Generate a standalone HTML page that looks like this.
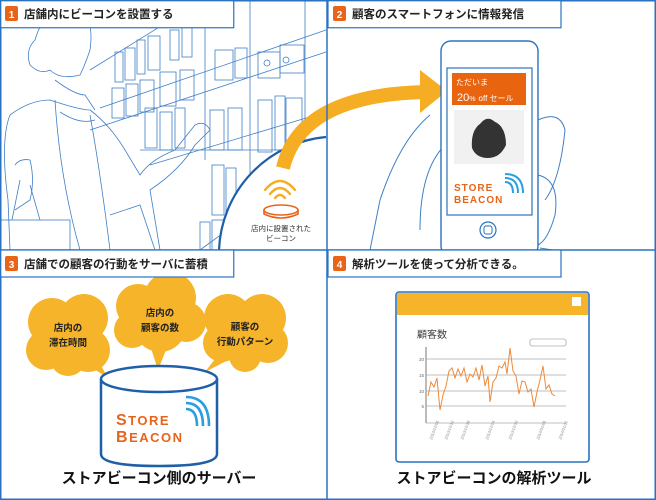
<!DOCTYPE html>
<html><head><meta charset="utf-8"><style>
html,body{margin:0;padding:0;background:#fff;}
svg{display:block;font-family:"Liberation Sans","Noto Sans CJK JP",sans-serif;}
</style></head><body>
<svg width="656" height="500" viewBox="0 0 656 500" xmlns="http://www.w3.org/2000/svg">
<rect x="0" y="0" width="656" height="500" fill="#fff"/>
<!-- panel 1 line illustration -->
<g stroke="#3f7fc6" stroke-width="0.8" fill="none">
  <line x1="90" y1="130" x2="326" y2="52"/>
  <line x1="100" y1="108" x2="326" y2="30"/>
  <line x1="150" y1="165" x2="326" y2="112"/>
  <line x1="200" y1="250" x2="326" y2="158"/>
  <line x1="90" y1="70" x2="190" y2="8"/>
  <line x1="140" y1="150" x2="326" y2="150"/>
  <line x1="205" y1="28" x2="205" y2="160"/>
  <line x1="250" y1="0" x2="250" y2="250"/>
  <line x1="305" y1="0" x2="305" y2="140"/>
  <rect x="115" y="52" width="8" height="30"/><rect x="125" y="48" width="10" height="32"/><rect x="137" y="40" width="8" height="34"/><rect x="148" y="36" width="12" height="34"/><rect x="170" y="30" width="9" height="30"/><rect x="182" y="25" width="10" height="32"/>
  <rect x="215" y="50" width="18" height="30"/><rect x="235" y="48" width="12" height="30"/><rect x="258" y="52" width="22" height="26"/><rect x="280" y="45" width="24" height="28"/>
  <rect x="112" y="88" width="12" height="30"/><rect x="126" y="84" width="12" height="32"/><rect x="140" y="80" width="14" height="32"/><rect x="160" y="72" width="16" height="34"/><rect x="180" y="70" width="14" height="30"/>
  <rect x="258" y="100" width="14" height="52"/><rect x="275" y="96" width="10" height="54"/><rect x="286" y="98" width="16" height="52"/>
  <rect x="145" y="108" width="12" height="40"/><rect x="160" y="112" width="12" height="38"/><rect x="175" y="108" width="10" height="40"/><rect x="210" y="110" width="14" height="40"/><rect x="228" y="108" width="14" height="42"/>
  <rect x="212" y="165" width="12" height="50"/><rect x="226" y="168" width="10" height="50"/><rect x="200" y="222" width="10" height="28"/><rect x="212" y="220" width="12" height="30"/>
  <circle cx="267" cy="63" r="3"/><circle cx="286" cy="60" r="3"/>
  <path d="M35 40 Q45 5 75 8 Q95 15 90 50 Q85 65 80 75 Q60 80 50 70 Q40 75 30 65 Q25 50 35 40"/>
  <path d="M55 80 Q75 95 85 95 L95 110"/>
  <path d="M10 115 Q30 100 50 100 Q80 110 90 110 Q110 125 125 150 L140 175 Q150 160 175 150 L195 125 Q205 120 210 130 L195 145 Q180 170 150 190 L160 250"/>
  <path d="M10 115 Q0 140 8 200 L10 250"/>
  <path d="M55 100 Q60 180 80 250"/>
  <path d="M90 115 Q100 170 110 250"/>
  <path d="M60 112 Q80 125 95 120"/>
  <path d="M110 215 L140 205 L155 250"/>
  <path d="M15 165 Q20 158 30 160 Q35 180 30 200 L15 210"/>
  <rect x="0" y="220" width="70" height="30"/>
  <path d="M12 220 L20 180 M40 220 L30 185"/>
</g>
<!-- beacon circle -->
<path d="M219 250 A118 118 0 0 1 326 137 L326 250 Z" fill="#fff"/>
<path d="M219 250 A118 118 0 0 1 326 137" stroke="#1e5fa8" stroke-width="2.2" fill="none"/>
<!-- arrow -->
<path d="M283 168 Q300 95 425 92" stroke="#f5ad24" stroke-width="14" fill="none"/>
<polygon points="420,70 447,91 420,113" fill="#f5ad24"/>
<!-- beacon icon -->
<g stroke="#f5ad24" stroke-width="2.4" fill="none" stroke-linecap="round">
  <path d="M265 190 Q280 172 295 190"/>
  <path d="M270 194 Q280 182 290 194"/>
  <path d="M275 198 Q280 192 285 198"/>
</g>
<ellipse cx="281" cy="210" rx="17" ry="5" fill="#fff" stroke="#e8641a" stroke-width="1.6"/>
<path d="M264 210 L264 214 Q281 222 298 214 L298 210" fill="none" stroke="#e8641a" stroke-width="1.6"/>
<text x="281" y="231" font-size="7.5" text-anchor="middle" fill="#333">店内に設置された</text>
<text x="281" y="241" font-size="7.5" text-anchor="middle" fill="#333">ビーコン</text>
<!-- panel 2 hand -->
<g stroke="#3f7fc6" stroke-width="1" fill="none">
  <path d="M430 115 Q400 140 380 200 L370 250"/>
  <path d="M445 145 Q420 170 420 230"/>
  <path d="M538 120 Q560 110 565 130 Q560 180 545 200"/>
  <path d="M538 175 Q560 180 555 215 Q548 240 538 245"/>
  <path d="M540 248 Q552 250 555 250"/>
</g>
<!-- phone -->
<rect x="441" y="41" width="97" height="215" rx="10" fill="#fff" stroke="#2a73c0" stroke-width="1.4"/>
<rect x="447" y="68" width="85" height="147" fill="#fff" stroke="#2a73c0" stroke-width="1.2"/>
<circle cx="488" cy="230" r="8" fill="none" stroke="#2a73c0" stroke-width="1.2"/>
<rect x="484" y="226" width="8" height="8" rx="2" fill="none" stroke="#2a73c0" stroke-width="1"/>
<rect x="452" y="73" width="74" height="32" fill="#e8640e"/>
<text x="456" y="85" font-size="8" fill="#fff">ただいま</text>
<text x="457" y="101" font-size="11" fill="#fff">20<tspan font-size="7">%</tspan> <tspan font-size="8">off セール</tspan></text>
<rect x="454" y="110" width="70" height="54" fill="#f1f1f1"/>
<path d="M472 148 Q470 125 488 120 Q506 122 506 145 Q500 158 488 158 Q476 158 472 148Z" fill="#333"/>
<path d="M479 128 Q488 112 498 128" stroke="#333" stroke-width="2.5" fill="none"/>
<text x="454" y="191" font-size="10" font-weight="bold" fill="#e8641a" letter-spacing="1">STORE</text>
<text x="454" y="203" font-size="10" font-weight="bold" fill="#e8641a" letter-spacing="1">BEACON</text>
<g stroke="#2a9ee0" stroke-width="2" fill="none">
  <path d="M505 182 Q513 182 513 193"/><path d="M505 178 Q518 178 518 193"/><path d="M505 174 Q523 174 523 193"/>
</g>
<!-- panel 3 clouds -->
<g fill="#f5b42a">
  <circle cx="52" cy="322" r="24"/><circle cx="84" cy="318" r="24"/><circle cx="46" cy="350" r="20"/><circle cx="88" cy="350" r="22"/><circle cx="68" cy="335" r="28"/><circle cx="68" cy="358" r="18"/>
  <polygon points="80,360 108,378 95,355"/>
  <circle cx="138" cy="306" r="22"/><circle cx="170" cy="298" r="26"/><circle cx="186" cy="322" r="20"/><circle cx="132" cy="330" r="18"/><circle cx="160" cy="326" r="26"/>
  <polygon points="150,345 158,370 168,345"/>
  <circle cx="228" cy="318" r="24"/><circle cx="262" cy="318" r="24"/><circle cx="222" cy="343" r="19"/><circle cx="268" cy="343" r="20"/><circle cx="245" cy="335" r="26"/><circle cx="245" cy="356" r="16"/>
  <polygon points="222,350 205,372 238,355"/>
</g>
<g font-size="9.5" fill="#222" text-anchor="middle" font-weight="bold">
  <text x="68" y="331">店内の</text><text x="68" y="346">滞在時間</text>
  <text x="160" y="316">店内の</text><text x="160" y="331">顧客の数</text>
  <text x="245" y="330">顧客の</text><text x="245" y="345">行動パターン</text>
</g>
<!-- cylinder -->
<path d="M101 379 L101 454 Q101 466 159 466 Q217 466 217 454 L217 379" fill="#fff" stroke="#1e5fa8" stroke-width="2.5"/>
<ellipse cx="159" cy="379" rx="58" ry="13" fill="#fff" stroke="#1e5fa8" stroke-width="2.5"/>
<text x="116" y="425" font-size="13" font-weight="bold" fill="#e8641a" letter-spacing="1.5"><tspan font-size="16">S</tspan>TORE</text>
<text x="116" y="442" font-size="13" font-weight="bold" fill="#e8641a" letter-spacing="1.5"><tspan font-size="16">B</tspan>EACON</text>
<g stroke="#2a9ee0" stroke-width="2.6" fill="none">
  <path d="M186 409 Q197 409 197 426"/><path d="M186 403 Q203 403 203 426"/><path d="M186 397 Q209 397 209 426"/>
</g>
<text x="159" y="483" font-size="15" font-weight="bold" fill="#111" text-anchor="middle">ストアビーコン側のサーバー</text>
<!-- panel 4 window -->
<rect x="396" y="292" width="193" height="170" rx="3" fill="#fff" stroke="#2a73c0" stroke-width="1.6"/>
<rect x="397" y="293" width="191" height="22" fill="#f5b42a"/>
<rect x="572" y="297" width="9" height="9" fill="#fff"/>
<text x="417" y="338" font-size="10" fill="#444">顧客数</text>
<rect x="530" y="339" width="36" height="7" rx="2" fill="#fff" stroke="#888" stroke-width="0.6"/>
<line x1="426" y1="347" x2="426" y2="423" stroke="#555" stroke-width="0.8"/>
<g stroke="#aaa" stroke-width="0.8">
  <line x1="426" y1="359" x2="566" y2="359"/><line x1="426" y1="375" x2="566" y2="375"/><line x1="426" y1="391" x2="566" y2="391"/><line x1="426" y1="406" x2="566" y2="406"/><line x1="426" y1="423" x2="566" y2="423"/>
</g>
<g font-size="4.5" fill="#666" text-anchor="end"><text x="424" y="361">20</text><text x="424" y="377">15</text><text x="424" y="393">10</text><text x="424" y="408">5</text></g>
<polyline fill="none" stroke="#ee8a3a" stroke-width="1" points="428,396 431,382 434,387 437,378 440,410 443,395 446,386 449,371 452,368 455,378 458,369 461,376 464,368 467,382 470,374 473,377 476,368 479,380 482,365 485,386 488,376 490,402 493,382 496,378 499,366 502,368 505,362 507,374 510,348 513,371 516,376 519,394 522,381 525,382 528,392 531,389 534,407 537,392 540,380 543,366 546,389 549,385 552,394 555,396"/>
<g font-size="4" fill="#888">
  <text transform="translate(432,440) rotate(-70)">2013/12/06</text>
  <text transform="translate(447,440) rotate(-70)">2013/12/12</text>
  <text transform="translate(463,440) rotate(-70)">2013/12/18</text>
  <text transform="translate(488,440) rotate(-70)">2013/12/24</text>
  <text transform="translate(511,440) rotate(-70)">2013/12/30</text>
  <text transform="translate(539,440) rotate(-70)">2014/01/05</text>
  <text transform="translate(561,440) rotate(-70)">2014/01/11</text>
</g>
<text x="494" y="483" font-size="15" font-weight="bold" fill="#111" text-anchor="middle">ストアビーコンの解析ツール</text>
<!-- frame -->
<g stroke="#2a73c0" stroke-width="1.5" fill="none">
  <rect x="0.75" y="0.75" width="654.5" height="498.5"/>
  <line x1="327" y1="0" x2="327" y2="500"/>
  <line x1="0" y1="250" x2="656" y2="250"/>
</g>
<!-- headers -->
<g stroke="#2a73c0" stroke-width="1.2" fill="#fff">
  <rect x="0.75" y="0.75" width="233" height="27"/>
  <rect x="328" y="0.75" width="233" height="27"/>
  <rect x="0.75" y="250" width="233" height="27"/>
  <rect x="328" y="250" width="233" height="27"/>
</g>
<g fill="#e8641a">
  <rect x="5" y="6" width="13" height="15" rx="2"/><rect x="333" y="6" width="13" height="15" rx="2"/>
  <rect x="5" y="256" width="13" height="15" rx="2"/><rect x="333" y="256" width="13" height="15" rx="2"/>
</g>
<g font-size="10" font-weight="bold" fill="#fff" text-anchor="middle">
  <text x="11.5" y="18">1</text><text x="339.5" y="18">2</text><text x="11.5" y="268">3</text><text x="339.5" y="268">4</text>
</g>
<g font-size="11.5" fill="#222" font-weight="bold">
  <text x="24" y="18">店舗内にビーコンを設置する</text>
  <text x="352" y="18">顧客のスマートフォンに情報発信</text>
  <text x="24" y="268">店舗での顧客の行動をサーバに蓄積</text>
  <text x="352" y="268">解析ツールを使って分析できる。</text>
</g>
</svg>
</body></html>
